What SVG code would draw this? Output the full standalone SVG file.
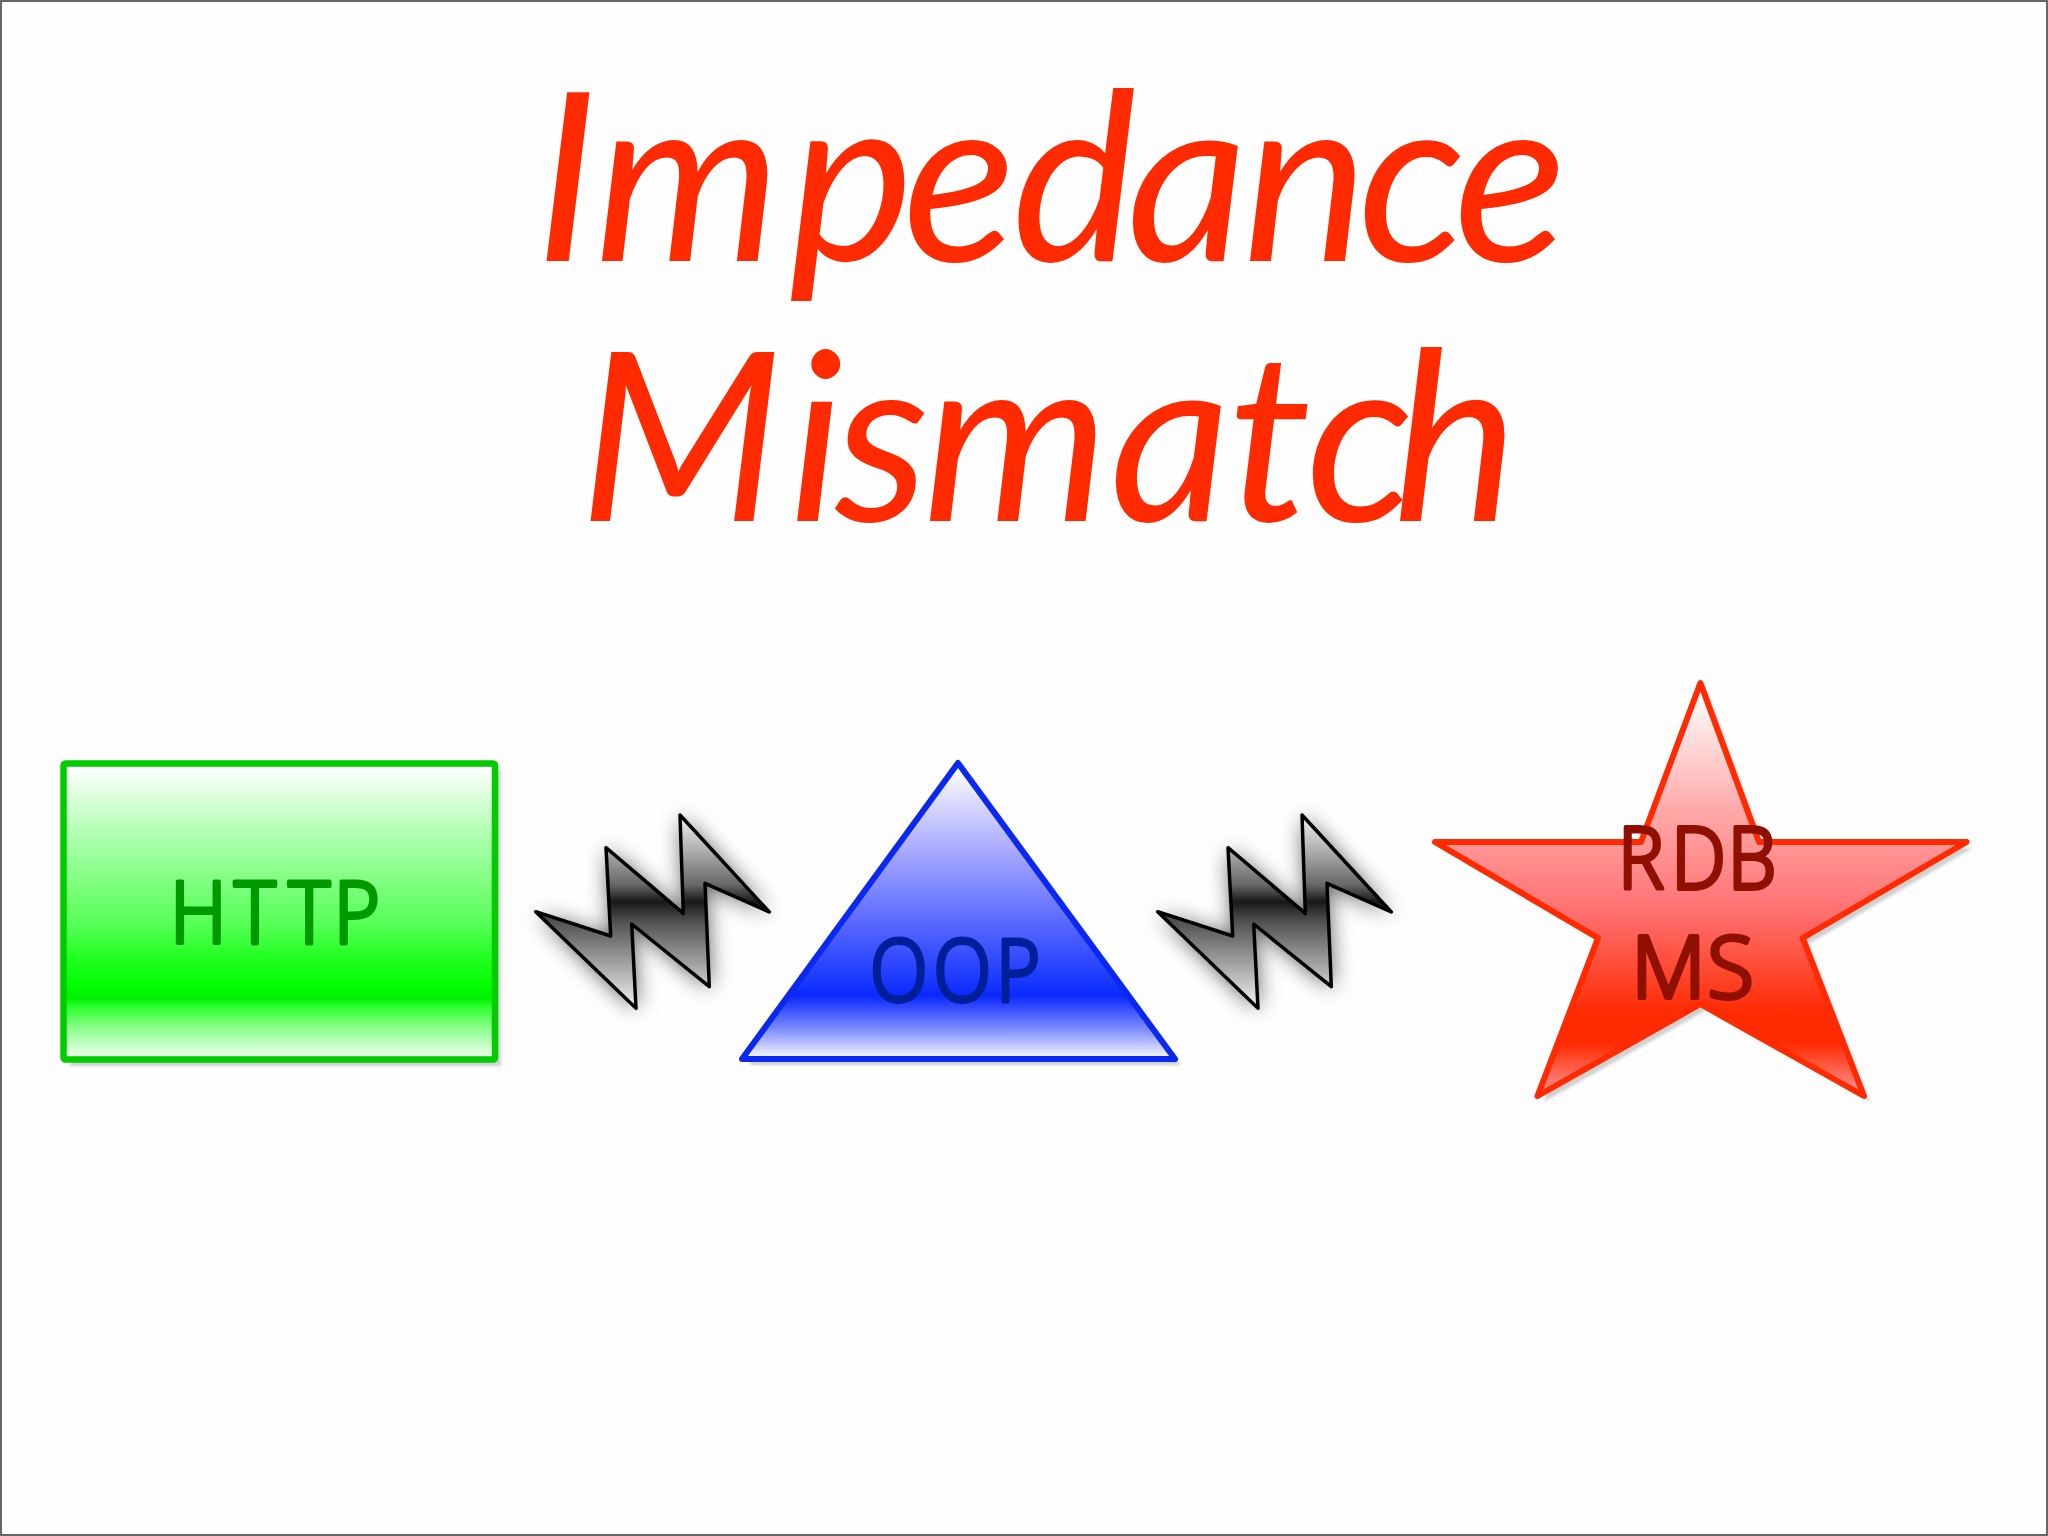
<svg xmlns="http://www.w3.org/2000/svg" width="2048" height="1536" viewBox="0 0 2048 1536">
<style>
.title{font-family:"Lato","Noto Sans",sans-serif;font-style:italic;font-size:236px;fill:#ff2a00}
.lab{font-family:"Noto Sans","Lato",sans-serif;font-weight:300;font-size:86px;stroke-linejoin:round;stroke-linecap:round;stroke-width:4px}
.sh{fill:#b0b0b0;opacity:.6;filter:url(#sb)}
.bolt{fill:url(#gk);stroke:#000;stroke-width:3.5;stroke-linejoin:round}
.halo{fill:#000;opacity:.65;filter:url(#bb)}
</style>
<defs>
<filter id="sb" x="-5%" y="-5%" width="110%" height="110%"><feGaussianBlur stdDeviation="1.500"/></filter>
<filter id="bb" x="-30%" y="-30%" width="160%" height="160%"><feGaussianBlur stdDeviation="11"/></filter>
<linearGradient id="gg" gradientUnits="userSpaceOnUse" x1="0" y1="767" x2="0" y2="1056">
<stop offset="0" stop-color="#fff"/><stop offset=".22" stop-color="#b4ffb4"/><stop offset=".55" stop-color="#55ff55"/><stop offset=".66" stop-color="#22ff22"/><stop offset=".76" stop-color="#00ff00"/><stop offset=".8" stop-color="#00ee00"/><stop offset=".83" stop-color="#2cff2c"/><stop offset=".9" stop-color="#88ff88"/><stop offset="1" stop-color="#eaffea"/>
</linearGradient>
<linearGradient id="gb" gradientUnits="userSpaceOnUse" x1="0" y1="767" x2="0" y2="1056">
<stop offset="0" stop-color="#fff"/><stop offset=".25" stop-color="#b4b4ff"/><stop offset=".55" stop-color="#5566ff"/><stop offset=".74" stop-color="#1a38ff"/><stop offset=".79" stop-color="#0a28ff"/><stop offset=".83" stop-color="#3048ff"/><stop offset=".91" stop-color="#8090ff"/><stop offset="1" stop-color="#f0f0ff"/>
</linearGradient>
<linearGradient id="gr" gradientUnits="userSpaceOnUse" x1="0" y1="690" x2="0" y2="1096">
<stop offset="0" stop-color="#fff"/><stop offset=".3" stop-color="#ffa8a8"/><stop offset=".55" stop-color="#ff7070"/><stop offset=".8" stop-color="#ff2a00"/><stop offset=".87" stop-color="#ff2a00"/><stop offset="1" stop-color="#ff9a9a"/>
</linearGradient>
<linearGradient id="gk" gradientUnits="userSpaceOnUse" x1="0" y1="815" x2="0" y2="1008">
<stop offset="0" stop-color="#f4f4f4"/><stop offset=".2" stop-color="#a8a8a8"/><stop offset=".36" stop-color="#686868"/><stop offset=".45" stop-color="#181818"/><stop offset=".55" stop-color="#505050"/><stop offset=".72" stop-color="#909090"/><stop offset="1" stop-color="#f4f4f4"/>
</linearGradient>
<path id="boltp" d="M535.7 911.7L610.7 936L606 847.7L683.3 913.3L680 815L769.3 912L705 883.3L709.3 986.7L631.7 924L636 1008.3Z"/>
</defs>
<rect width="2048" height="1536" fill="#fefefe"/>
<rect x="1" y="1" width="2046" height="1534" fill="none" stroke="#666" stroke-width="2"/>
<g id="title">
<text class="title" y="261" x="535 595 789 903 1012 1127 1243 1358 1454">Impedance</text>
<text class="title" y="521" x="579 789 835 923 1110 1228 1306 1393">Mismatch</text>
</g>
<g id="node-http">
<rect class="sh" x="70" y="770" width="431" height="296"/>
<rect x="63.500" y="763.500" width="431.500" height="296" rx="2" fill="url(#gg)" stroke="#00cc00" stroke-width="6.500" stroke-linejoin="round"/>
<text class="lab" transform="translate(177 943) scale(.92 1)" x="-8 62 121 170" fill="#009900" stroke="#009900">HTTP</text>
</g>
<g id="node-oop">
<path class="sh" d="M964 769L1181 1065H749Z"/>
<path d="M958 763L1175 1059H742Z" fill="url(#gb)" stroke="#0a28f0" stroke-width="6" stroke-linejoin="round"/>
<text class="lab" transform="translate(876 1001) scale(.88 1)" x="-7 65 136" fill="#001f99" stroke="#001f99">OOP</text>
</g>
<g id="node-rdbms">
<path class="sh" d="M1706.400 689L1765 848H1972.600L1808.700 944L1870 1102L1706.400 1010L1543.500 1102L1604 944L1441 848H1647Z"/>
<path d="M1700.400 683L1759 842H1966.600L1802.700 938L1864 1096L1700.400 1004L1537.500 1096L1598 938L1435 842H1641Z" fill="url(#gr)" stroke="#ff2a00" stroke-width="6" stroke-linejoin="round"/>
<text class="lab" transform="translate(1625 889) scale(.9 1)" x="-8 51 114" fill="#8f1000" stroke="#8f1000">RDB</text>
<text class="lab" y="998" x="1631 1707" fill="#8f1000" stroke="#8f1000">MS</text>
</g>
<g id="connectors">
<g id="bolt-1">
<use href="#boltp" class="halo" transform="translate(1 2)"/>
<use href="#boltp" class="bolt"/>
</g>
<g id="bolt-2" transform="translate(622 0)">
<use href="#boltp" class="halo" transform="translate(1 2)"/>
<use href="#boltp" class="bolt"/>
</g>
</g>
</svg>
